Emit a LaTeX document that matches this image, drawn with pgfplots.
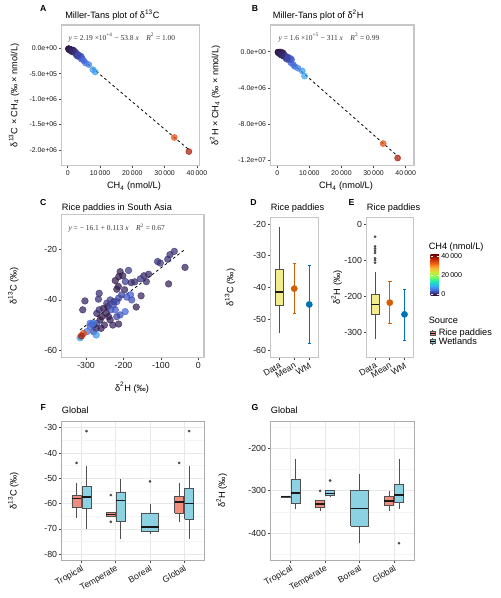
\documentclass[border=0pt]{standalone}
\usepackage{fontspec}
\setmainfont{Liberation Sans}
\newfontfamily\eqfont{Liberation Serif}
\usepackage{pgfplots}
\pgfplotsset{compat=1.18}
\usepackage{pgfplotstable}

\definecolor{t0}{RGB}{48,18,59}
\definecolor{t1}{RGB}{70,98,215}
\definecolor{t2}{RGB}{54,170,249}
\definecolor{t3}{RGB}{26,228,182}
\definecolor{t4}{RGB}{114,254,94}
\definecolor{t5}{RGB}{199,239,52}
\definecolor{t6}{RGB}{250,186,57}
\definecolor{t7}{RGB}{246,107,25}
\definecolor{t8}{RGB}{203,42,4}
\definecolor{t9}{RGB}{122,4,3}
\definecolor{rice}{RGB}{242,140,125}
\definecolor{wet}{RGB}{140,210,226}
\definecolor{datay}{RGB}{243,236,143}
\definecolor{meanc}{RGB}{213,94,0}
\definecolor{wmc}{RGB}{0,114,178}
\definecolor{boxline}{RGB}{80,80,80}

\pgfplotsset{colormap={turbo}{rgb255=(48,18,59) rgb255=(70,98,215) rgb255=(54,170,249) rgb255=(26,228,182) rgb255=(114,254,94) rgb255=(199,239,52) rgb255=(250,186,57) rgb255=(246,107,25) rgb255=(203,42,4) rgb255=(122,4,3)}}

\newcommand\sfont{\fontsize{5.2}{6}\selectfont}
\newcommand\tfont{\fontsize{6.6}{7.5}\selectfont}
\newcommand\lfont{\fontsize{6.9}{8}\selectfont}
\newcommand\efont{\eqfont\fontsize{5.6}{6.5}\selectfont}

% box: #1 left, #2 centre, #3 right, #4 lower whisker, #5 lower quartile, #6 median, #7 upper quartile, #8 upper whisker, #9 fill
\newcommand\bxp[9]{%
 \addplot[boxline, line width=0.6pt] coordinates {(#2,#4) (#2,#5)};
 \addplot[boxline, line width=0.6pt] coordinates {(#2,#7) (#2,#8)};
 \addplot[boxline, fill=#9, line width=0.6pt] coordinates {(#1,#5) (#3,#5) (#3,#7) (#1,#7) (#1,#5)};
 \addplot[black!90, line width=1.1pt] coordinates {(#1,#6) (#3,#6)};
}

\pgfplotstableread{
d2h d13c ch4
-64.3 -20.9 1800
-75.9 -22.2 1500
-82 -24 1600
-109 -24.9 1700
-101.8 -25.5 1900
-35.7 -27.2 900
-133 -29.9 1200
-145.5 -30.5 1100
-155 -31.7 2100
-186.6 -28.4 2200
-209 -28.9 800
-202 -30.5 600
-212.5 -30.8 500
-222 -32.4 400
-195 -32.8 2500
-179.5 -33.2 1300
-170 -32.9 1400
-214 -34.7 300
-197 -36 1000
-218 -35.8 700
-139 -32.8 1200
-265 -37.4 1500
-267 -39.7 1600
-303 -40.4 900
-309 -43.9 1000
-79.5 -33.7 800
-166 -42.8 600
-226 -40.7 300
-218 -40.7 3500
-213 -39.3 3000
-205 -38 2800
-191 -38.9 3800
-178 -40 3200
-153 -38.4 900
-181 -38 4200
-242 -42.6 400
-253.6 -43.3 200
-234 -43.9 3600
-246 -45.3 500
-258 -46.6 350
-262.5 -47.9 450
-271.4 -49.2 2600
-280 -49.9 1200
-235.7 -47.9 700
-213 -49.5 800
-228.6 -49.9 1000
-251 -49.9 900
-222 -43.9 4000
-209 -45.9 3400
-195.5 -44.6 4500
-271.4 -45.3 1100
-273 -51.2 1300
-289 -50.5 4200
-298 -52.5 5500
-280 -52.5 3000
-316 -54.9 8500
-273 -53.8 7800
-282 -49.2 6500
-244.6 -41.3 2000
-235.7 -40 2400
-227 -42 3300
-240 -46.6 600
-218 -46.6 2900
-260 -51.2 700
-265 -43.9 1400
-289 -49.2 5000
-307 -53.2 33000
-312.5 -54.2 37500
}\ricedata

\pgfplotsset{
 gg/.style={scale only axis, anchor=north west,
   axis line style={draw=gray!45, line width=0.9pt},
   tick pos=left, tick align=outside, major tick length=2pt,
   tick style={black!70, line width=0.5pt},
   tick label style={font=\tfont, text=black!90, inner sep=1.3pt},
   scaled ticks=false},
 ggbw/.style={gg, axis line style={draw=gray!65, line width=0.7pt},
   grid=both, major grid style={gray!18, line width=0.6pt},
   minor grid style={gray!9, line width=0.4pt}, minor tick length=0pt,
   xmin=0.42, xmax=4.58, xtick={1,2,3,4},
   xticklabels={Tropical,Temperate,Boreal,Global},
   x tick label style={rotate=30, anchor=north east, inner sep=1pt}},
 sc/.style={scatter, only marks, mark=*, scatter src=explicit,
   scatter/use mapped color={draw=mapped color, fill=mapped color, opacity=0.72}},
 eb/.style={#1, only marks, mark=*, mark size=2.3pt,
   error bars/.cd, y dir=both, y explicit, error bar style={line width=0.7pt, #1},
   error mark=-, error mark options={#1, rotate=90, mark size=1.3pt, line width=0.7pt}},
 outl/.style={only marks, mark=*, mark size=0.8pt, gray!60!black}
}

\begin{document}
\begin{tikzpicture}
\useasboundingbox (0pt,0pt) rectangle (375pt,-448.5pt);

% ---------- A ----------
\begin{axis}[gg, at={(46.3pt,-18.75pt)}, width=103.2pt, height=105.5pt,
  xmin=-1860, xmax=40740, ymin=-2310000, ymax=459000,
  xtick={0,10000,20000,30000,40000},
  xticklabels={0,10\,000,20\,000,30\,000,40\,000},
  ytick={-2000000,-1500000,-1000000,-500000,0},
  yticklabels={-2.0e+06,-1.5e+06,-1.0e+06,-5.0e+05,0.0e+00},
  tick label style={font=\sfont},
  colormap name=turbo, point meta min=0, point meta max=40000]
\addplot[sc, mark size=2.3pt] table[x=ch4, y expr=\thisrow{ch4}*\thisrow{d13c}, meta=ch4]{\ricedata};
\addplot[black, dash pattern=on 2pt off 2pt, line width=0.6pt] coordinates {(0,21900) (37500,-1995600)};
\end{axis}

% ---------- B ----------
\begin{axis}[gg, at={(203pt,-18.75pt)}, width=107.5pt, height=105.5pt,
  xmin=-2050, xmax=42600, ymin=-12560000, ymax=2940000,
  xtick={0,10000,20000,30000,40000},
  xticklabels={0,10\,000,20\,000,30\,000,40\,000},
  ytick={-12000000,-8000000,-4000000,0},
  yticklabels={-1.2e+07,-8.0e+06,-4.0e+06,0.0e+00},
  tick label style={font=\sfont},
  colormap name=turbo, point meta min=0, point meta max=40000]
\addplot[sc, mark size=2.3pt] table[x=ch4, y expr=\thisrow{ch4}*\thisrow{d2h}, meta=ch4]{\ricedata};
\addplot[black, dash pattern=on 2pt off 2pt, line width=0.6pt] coordinates {(0,160000) (37500,-11502500)};
\end{axis}

% ---------- C ----------
\begin{axis}[gg, at={(46.3pt,-160.7pt)}, width=106.7pt, height=107.3pt,
  xmin=-365, xmax=15, ymin=-62.6, ymax=-6.3,
  xtick={-300,-200,-100,0}, xticklabels={-300,-200,-100,0},
  ytick={-60,-40,-20}, yticklabels={-60,-40,-20},
  colormap name=turbo, point meta min=0, point meta max=40000]
\addplot[sc, mark size=2.5pt] table[x=d2h, y=d13c, meta=ch4]{\ricedata};
\addplot[black, dash pattern=on 2pt off 2pt, line width=0.6pt] coordinates {(-316,-51.808) (-36,-20.168)};
\end{axis}

% ---------- D ----------
\begin{axis}[gg, at={(203pt,-163.3pt)}, width=35.7pt, height=104.7pt,
  xmin=0.43, xmax=3.6, ymin=-62.1, ymax=-18,
  xtick={1,2,3}, xticklabels={Data,Mean,WM},
  x tick label style={rotate=30, anchor=north east, inner sep=1pt},
  ytick={-60,-50,-40,-30,-20}, yticklabels={-60,-50,-40,-30,-20}]
\bxp{0.72}{1}{1.28}{-54.5}{-45.6}{-41.4}{-34.2}{-21}{datay}
\addplot[eb=meanc] coordinates {(2,-40.4) += (0,8.1) -= (0,8.0)};
\addplot[eb=wmc] coordinates {(3,-45.4) += (0,12.3) -= (0,12.3)};
\end{axis}

% ---------- E ----------
\begin{axis}[gg, at={(275pt,-163.3pt)}, width=35pt, height=104.7pt,
  xmin=0.43, xmax=3.6, ymin=-369, ymax=17.5,
  xtick={1,2,3}, xticklabels={Data,Mean,WM},
  x tick label style={rotate=30, anchor=north east, inner sep=1pt},
  ytick={-300,-200,-100,0}, yticklabels={-300,-200,-100,0}]
\bxp{0.73}{1}{1.27}{-317.6}{-251}{-222}{-195.4}{-134}{datay}
\addplot[outl] coordinates {(1,-35)(1,-62)(1,-68)(1,-74)(1,-80)(1,-95)(1,-100)(1,-107)};
\addplot[eb=meanc] coordinates {(2,-217.6) += (0,59.3) -= (0,56.4)};
\addplot[eb=wmc] coordinates {(3,-250) += (0,69.4) -= (0,72)};
\end{axis}

% ---------- F ----------
\begin{axis}[ggbw, at={(46.3pt,-316.3pt)}, width=106.7pt, height=103.7pt,
  ymin=-82.3, ymax=-27.6,
  ytick={-80,-70,-60,-50,-40,-30}, yticklabels={-80,-70,-60,-50,-40,-30},
  minor ytick={-75,-65,-55,-45,-35}]
\bxp{0.72}{0.855}{0.99}{-65.5}{-61.4}{-57.9}{-56.6}{-51.7}{rice}
\bxp{1.01}{1.145}{1.28}{-70}{-61.8}{-57.4}{-53.3}{-45.1}{wet}
\bxp{1.72}{1.855}{1.99}{-65}{-65}{-64.2}{-63.6}{-63.6}{rice}
\bxp{2.01}{2.145}{2.28}{-74}{-67.1}{-58.7}{-55.7}{-50.1}{wet}
\bxp{2.745}{3}{3.255}{-72}{-71.1}{-69.2}{-63.7}{-60.3}{wet}
\bxp{3.72}{3.855}{3.99}{-67.2}{-63.9}{-59.3}{-57}{-51.7}{rice}
\bxp{4.01}{4.145}{4.28}{-74}{-66.2}{-60}{-54.1}{-45.1}{wet}
\addplot[outl] coordinates {(0.855,-43.9)(1.145,-31.3)(1.855,-56.6)(1.855,-67.2)(3,-51.2)(3.855,-43.9)(4.145,-31.3)};
\end{axis}

% ---------- G ----------
\begin{axis}[ggbw, at={(203pt,-316.3pt)}, width=107.5pt, height=103.7pt,
  ymin=-462.8, ymax=-137.4,
  ytick={-400,-300,-200}, yticklabels={-400,-300,-200},
  minor ytick={-450,-350,-250,-150}]
\bxp{0.72}{0.855}{0.99}{-314.5}{-314.5}{-313.3}{-312}{-312}{rice}
\bxp{1.01}{1.145}{1.28}{-342}{-329}{-305.5}{-272.7}{-225.8}{wet}
\bxp{1.72}{1.855}{1.99}{-348.4}{-339}{-331.3}{-323.4}{-323.4}{rice}
\bxp{2.01}{2.145}{2.28}{-314.8}{-311}{-306.3}{-299.2}{-299.2}{wet}
\bxp{2.745}{3}{3.255}{-423.4}{-382.8}{-341.4}{-300}{-259.4}{wet}
\bxp{3.72}{3.855}{3.99}{-348.4}{-335}{-323.4}{-314}{-300}{rice}
\bxp{4.01}{4.145}{4.28}{-342}{-328}{-309.4}{-285.2}{-225.8}{wet}
\addplot[outl] coordinates {(1.855,-300)(2.145,-275.8)(4.145,-423.4)};
\end{axis}

% ---------- text ----------
\begin{scope}[x=0.75pt, y=-0.75pt]
\tikzset{lt/.style={font=\fontsize{6.5}{7}\selectfont\bfseries, inner sep=0pt},
  tt/.style={font=\lfont, anchor=west, inner sep=0pt},
  yl/.style={font=\lfont, rotate=90, inner sep=0pt},
  xl/.style={font=\lfont, inner sep=0pt}}
\node[lt] at (43.3,8.5) {A};
\node[lt] at (255,8.5) {B};
\node[lt] at (43.3,202.5) {C};
\node[lt] at (253.5,202.5) {D};
\node[lt] at (351.5,202.5) {E};
\node[lt] at (43.3,407.3) {F};
\node[lt] at (255,407.3) {G};

\node[tt] at (65,15.5) {Miller-Tans plot of δ\textsuperscript{13}C};
\node[tt] at (272.7,15.5) {Miller-Tans plot of δ\textsuperscript{2}H};
\node[tt] at (61.7,208.3) {Rice paddies in South Asia};
\node[tt] at (270.7,207.7) {Rice paddies};
\node[tt] at (366.7,207.7) {Rice paddies};
\node[tt] at (61.7,410.7) {Global};
\node[tt] at (270.7,410.7) {Global};

\node[anchor=west, inner sep=0pt, font=\efont, text=black!80] at (68.3,37.7) {\itshape y\upshape\ = 2.19 ×10\textsuperscript{+4} − 53.8 \itshape x\upshape \quad \itshape R\upshape\textsuperscript{2} = 1.00};
\node[anchor=west, inner sep=0pt, font=\efont, text=black!80] at (278.3,37.7) {\itshape y\upshape\ = 1.6 ×10\textsuperscript{+5} − 311 \itshape x\upshape \quad \itshape R\upshape\textsuperscript{2} = 0.99};
\node[anchor=west, inner sep=0pt, font=\efont, text=black!80] at (68.3,228.3) {\itshape y\upshape\ = − 16.1 + 0.113 \itshape x\upshape \quad \itshape R\upshape\textsuperscript{2} = 0.67};

\node[yl] at (14,95.3) {δ\textsuperscript{13}C × CH\textsubscript{4} (‰ × nmol/L)};
\node[yl] at (215,95.3) {δ\textsuperscript{2}H × CH\textsubscript{4} (‰ × nmol/L)};
\node[yl] at (13.3,285.8) {δ\textsuperscript{13}C (‰)};
\node[yl] at (230,287.5) {δ\textsuperscript{13}C (‰)};
\node[yl] at (336.7,287.5) {δ\textsuperscript{2}H (‰)};
\node[yl] at (13.3,490.8) {δ\textsuperscript{13}C (‰)};
\node[yl] at (221.7,490.8) {δ\textsuperscript{2}H (‰)};

\node[xl] at (134,186.5) {CH\textsubscript{4} (nmol/L)};
\node[xl] at (346,186.5) {CH\textsubscript{4} (nmol/L)};
\node[xl] at (132,387.7) {δ\textsuperscript{2}H (‰)};

% legend: colour bar
\node[tt] at (428.5,247) {CH4 (nmol/L)};
\foreach \i/\a/\b in {0/t0/t1,1/t1/t2,2/t2/t3,3/t3/t4,4/t4/t5,5/t5/t6,6/t6/t7,7/t7/t8,8/t8/t9}{
  \shade[bottom color=\a, top color=\b] (430.7,{295-\i*4.444+0.15}) rectangle (439,{295-(\i+1)*4.444-0.15});
}
\foreach \yy in {256,275.5,294.5}{\draw[white, line width=0.4pt] (430.7,\yy) -- (432.5,\yy); \draw[white, line width=0.4pt] (437.2,\yy) -- (439,\yy);}
\node[anchor=west, inner sep=0pt, font=\fontsize{5.3}{6}\selectfont] at (441,256) {40\,000};
\node[anchor=west, inner sep=0pt, font=\fontsize{5.3}{6}\selectfont] at (441,275.5) {20\,000};
\node[anchor=west, inner sep=0pt, font=\fontsize{5.3}{6}\selectfont] at (441,294.5) {0};

% legend: source
\node[tt] at (428.5,320) {Source};
\foreach \yy/\c in {333/rice,341.7/wet}{
  \draw[boxline, line width=0.4pt] (432.7,\yy-3.3) -- (432.7,\yy+3.3);
  \filldraw[fill=\c, draw=boxline, line width=0.4pt] (430.3,\yy-2) rectangle (435.1,\yy+2);
  \draw[black, line width=0.6pt] (430.3,\yy) -- (435.1,\yy);
}
\node[tt] at (438.5,333) {Rice paddies};
\node[tt] at (438.5,341.7) {Wetlands};
\end{scope}
\end{tikzpicture}
\end{document}
